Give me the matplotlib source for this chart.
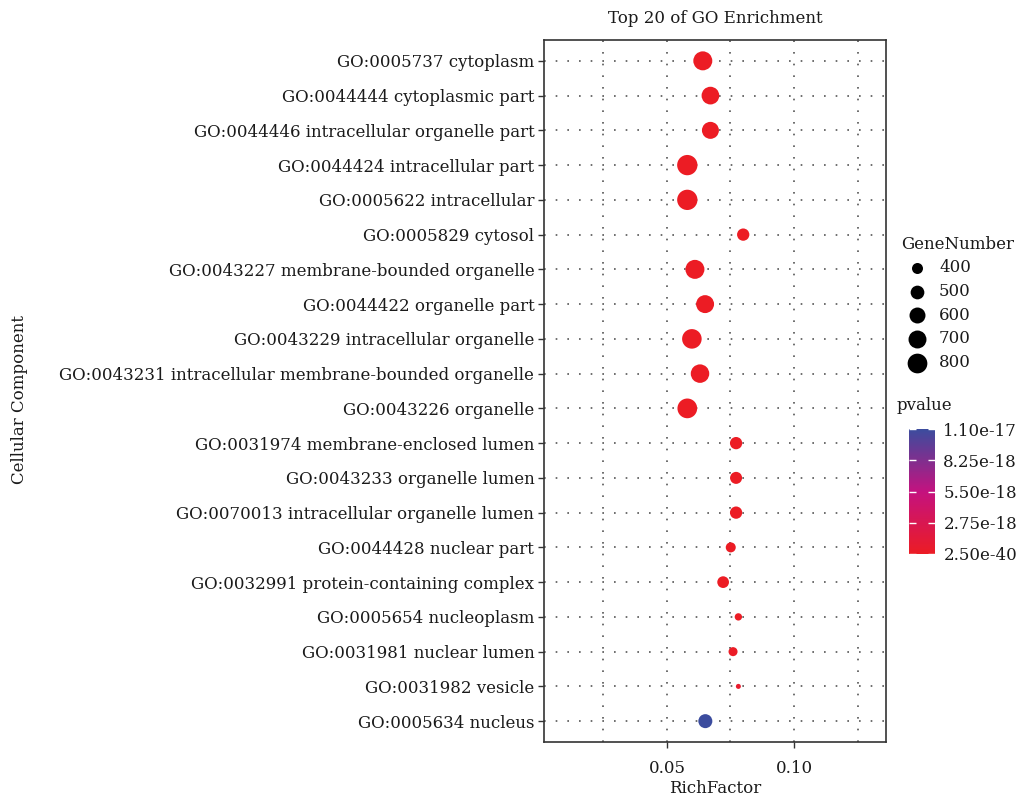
import numpy as np
import matplotlib
matplotlib.use('Agg')
import matplotlib.pyplot as plt
from matplotlib.colors import LinearSegmentedColormap, Normalize

plt.rcParams['font.family'] = ['DejaVu Serif']

terms = ['GO:0005737 cytoplasm', 'GO:0044444 cytoplasmic part',
         'GO:0044446 intracellular organelle part', 'GO:0044424 intracellular part',
         'GO:0005622 intracellular', 'GO:0005829 cytosol',
         'GO:0043227 membrane-bounded organelle', 'GO:0044422 organelle part',
         'GO:0043229 intracellular organelle',
         'GO:0043231 intracellular membrane-bounded organelle',
         'GO:0043226 organelle', 'GO:0031974 membrane-enclosed lumen',
         'GO:0043233 organelle lumen', 'GO:0070013 intracellular organelle lumen',
         'GO:0044428 nuclear part', 'GO:0032991 protein-containing complex',
         'GO:0005654 nucleoplasm', 'GO:0031981 nuclear lumen',
         'GO:0031982 vesicle', 'GO:0005634 nucleus']
rich = [0.0641, 0.0671, 0.0671, 0.0580, 0.0580, 0.0800, 0.0610, 0.0650, 0.0598, 0.0630,
        0.0580, 0.0772, 0.0772, 0.0772, 0.0751, 0.0721, 0.0781, 0.0760, 0.0781, 0.0651]
genes = [758, 687, 651, 835, 835, 445, 758, 700, 790, 730,
         800, 445, 435, 445, 369, 424, 300, 341, 257, 512]
pvals = [2.5e-40, 3.2e-38, 1.5e-36, 4.1e-35, 6.0e-34, 2.2e-32, 8.7e-31, 3.9e-29, 1.2e-27, 5.4e-26,
         2.6e-25, 7.3e-24, 1.9e-23, 4.4e-22, 9.8e-21, 3.1e-20, 6.5e-20, 1.7e-19, 5.2e-19, 1.1e-17]

legend_sizes = [400, 500, 600, 700, 800]
cbar_ticks = [2.5e-40, 2.75e-18, 5.5e-18, 8.25e-18, 1.1e-17]
cbar_labels = ['2.50e-40', '2.75e-18', '5.50e-18', '8.25e-18', '1.10e-17']

FS = 12
TXT = '#1a1a1a'


def marker_area(n):
    d_px = np.sqrt(np.maximum(0.67 * np.asarray(n, dtype=float) - 147, 4))
    return (d_px * 0.72) ** 2


cmap = LinearSegmentedColormap.from_list('pv', ['#EC1C24', '#C4127F', '#3B4C9E'])
norm = Normalize(vmin=2.5e-40, vmax=1.1e-17)

fig = plt.figure(figsize=(10.2, 8.02), dpi=100)
ax = fig.add_axes([544 / 1020, 1 - 742 / 802, 342 / 1020, 702 / 802])

ypos = np.arange(len(terms))[::-1]
ax.scatter(rich, ypos, s=marker_area(genes), c=pvals, cmap=cmap, norm=norm,
           linewidths=0, zorder=3)

ax.set_xlim(0.0016, 0.1362)
ax.set_ylim(-0.6, len(terms) - 0.4)
ax.set_yticks(ypos)
ax.set_yticklabels(terms, fontsize=FS, color=TXT)
ax.set_xticks([0.05, 0.10])
ax.set_xticklabels(['0.05', '0.10'], fontsize=FS, color=TXT)
ax.tick_params(axis='both', which='major', length=4, width=1, color='#333333', pad=3)
ax.tick_params(axis='x', pad=9)

grid_style = dict(color='#555555', linestyle=(0, (1, 6)), linewidth=1.2, zorder=1)
for y in ypos:
    ax.axhline(y, **grid_style)
for x in [0.025, 0.05, 0.075, 0.10, 0.125]:
    ax.axvline(x, **grid_style)

for sp in ax.spines.values():
    sp.set_linewidth(1.2)
    sp.set_color('#333333')

ax.set_xlabel('RichFactor', fontsize=FS, color=TXT, labelpad=2)
fig.text(20 / 1020, 1 - 400 / 802, 'Cellular Component', rotation=90, fontsize=FS,
         color=TXT, ha='center', va='center')
ax.set_title('Top 20 of GO Enrichment', fontsize=FS, color=TXT, pad=12)

# size legend
handles = [ax.scatter([], [], s=marker_area(n), color='black', linewidths=0) for n in legend_sizes]
leg = fig.legend(handles, [str(n) for n in legend_sizes], title='GeneNumber',
                 loc='upper left', bbox_to_anchor=(889 / 1020, 1 - 224 / 802),
                 frameon=False, fontsize=FS, title_fontsize=FS, labelspacing=0.4,
                 handletextpad=0.3, borderpad=0.2, alignment='left')
for t in leg.get_texts():
    t.set_color(TXT)
leg.get_title().set_color(TXT)

# colorbar
fig.text(897 / 1020, 1 - 405 / 802, 'pvalue', fontsize=FS, color=TXT, va='center')
cax = fig.add_axes([909 / 1020, 1 - 554 / 802, 26 / 1020, 125 / 802])
sm = plt.cm.ScalarMappable(norm=norm, cmap=cmap)
cb = fig.colorbar(sm, cax=cax, ticks=cbar_ticks)
cb.ax.set_yticklabels(cbar_labels, fontsize=FS, color=TXT)
cb.outline.set_visible(False)
cb.ax.tick_params(length=5, color='white', width=1, direction='in', left=True, right=True, pad=6)

fig.savefig('out.png', dpi=100)
